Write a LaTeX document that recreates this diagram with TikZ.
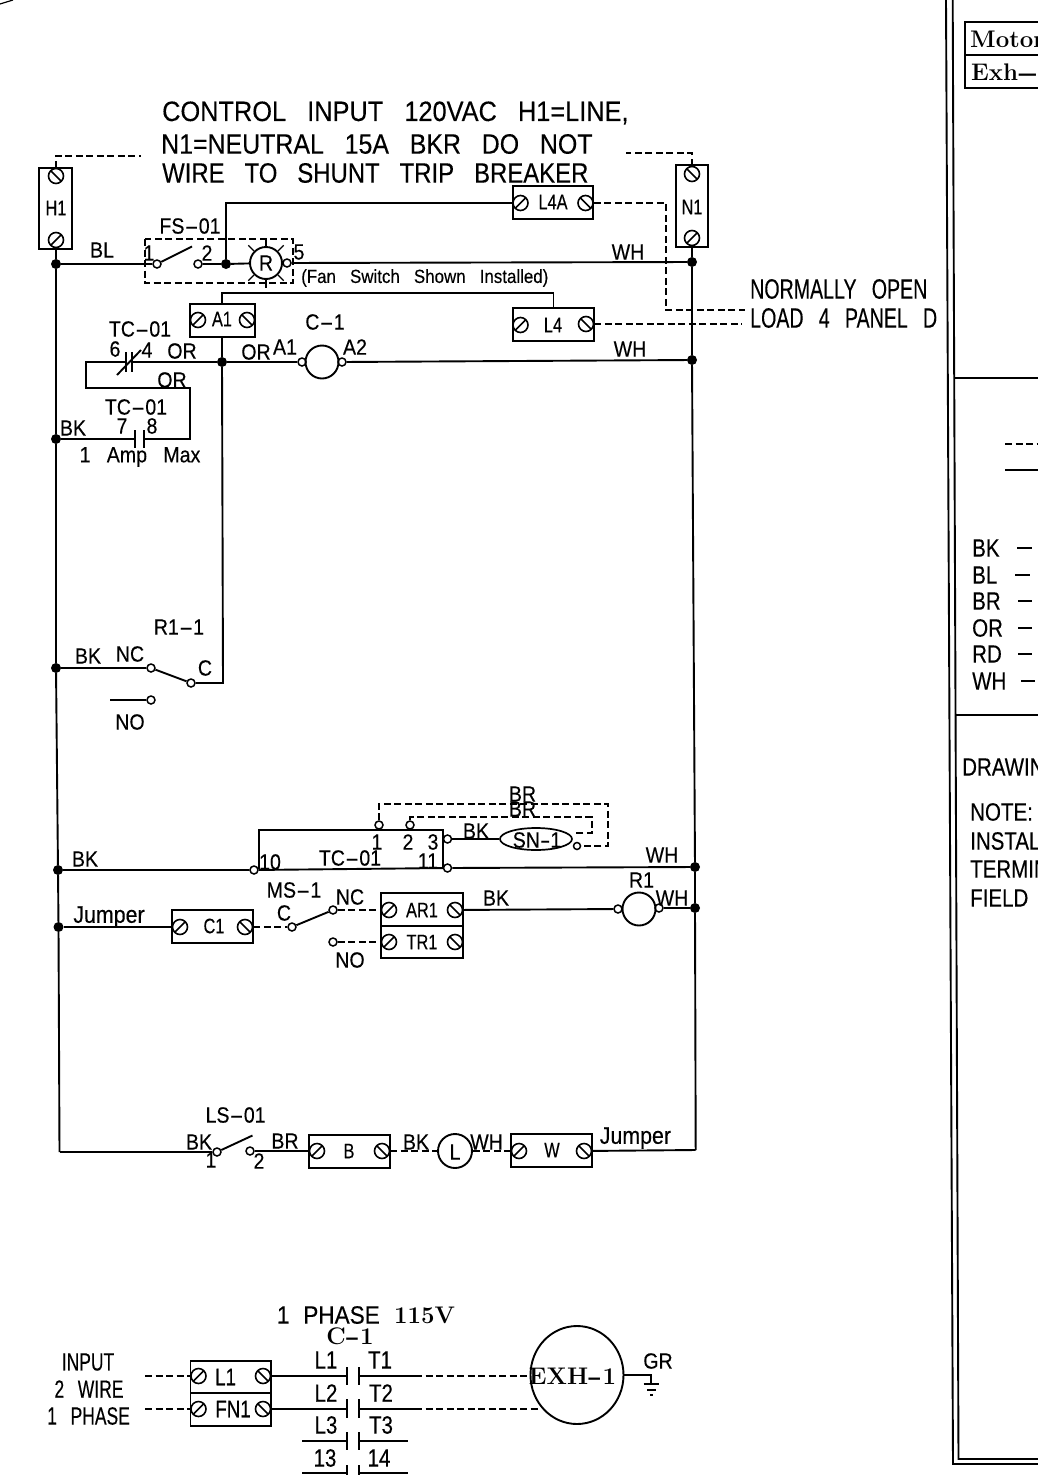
\documentclass[tikz,border=0pt]{standalone}
\usepackage{fontspec}
\setsansfont[FakeStretch=0.89,WordSpace=3,FakeBold=0.25]{Liberation Sans}
\newfontfamily\fB[FakeStretch=0.82,WordSpace=2.2,FakeBold=0.25]{Liberation Sans}
\newfontfamily\fN[FakeStretch=0.70,WordSpace=2.8,FakeBold=0.25]{Liberation Sans}
\newfontfamily\fC[FakeStretch=0.78,WordSpace=2,FakeBold=0.25]{Liberation Sans}
\usetikzlibrary{calc,shapes.geometric}
\newcommand{\hy}{\scalebox{2.2}[1]{-}}
\newcommand{\hyS}{\scalebox{1.6}[1]{-}}
\newcounter{lab}
\def\T#1(#2)#3;{\stepcounter{lab}\node[#1] (lab\arabic{lab}) at (#2) {#3};}
\tikzset{
 wire/.style={line width=1.9pt,black},
 dwire/.style={wire,dash pattern=on 7pt off 3.5pt},
 boxl/.style={draw,line width=1.9pt,inner sep=0pt},
 screwf/.style={circle,draw,line width=1.6pt,minimum size=15pt,inner sep=0pt,
   path picture={\draw[line width=1.6pt] (path picture bounding box.south west)--(path picture bounding box.north east);}},
 screwb/.style={circle,draw,line width=1.6pt,minimum size=15pt,inner sep=0pt,
   path picture={\draw[line width=1.6pt] (path picture bounding box.north west)--(path picture bounding box.south east);}},
 term/.style={circle,draw,line width=1.5pt,minimum size=8pt,inner sep=0pt},
 dot/.style={circle,fill=black,minimum size=10pt,inner sep=0pt},
 coil/.style={circle,draw,line width=1.9pt,inner sep=0pt},
 tA/.style={font=\sffamily\fontsize{28}{28}\selectfont,inner sep=0pt},
 tN/.style={font=\fN\fontsize{28}{28}\selectfont,inner sep=0pt},
 tI/.style={font=\fN\fontsize{25}{25}\selectfont,inner sep=0pt},
 tB/.style={font=\fB\fontsize{25}{25}\selectfont,inner sep=0pt},
 tS/.style={font=\sffamily\fontsize{22}{22}\selectfont,inner sep=0pt},
 tJ/.style={font=\sffamily\fontsize{24}{24}\selectfont,inner sep=0pt},
 tF/.style={font=\sffamily\fontsize{19}{19}\selectfont,inner sep=0pt},
 tX/.style={font=\fC\fontsize{21}{21}\selectfont,inner sep=0pt},
 tY/.style={font=\fC\fontsize{24}{24}\selectfont,inner sep=0pt},
 tL/.style={font=\rmfamily\bfseries\fontsize{24}{24}\selectfont,inner sep=0pt},
}
\begin{document}
\begin{tikzpicture}[x=1pt,y=-1pt]
\useasboundingbox (0,0) rectangle (1038,1475);
% --- corner and frame
\coordinate (cA) at (0,4); \coordinate (cB) at (13,0);
\draw[line width=1.2pt] (cA)--(cB);
\coordinate (fa) at (946,0); \coordinate (fb) at (953,1464);
\coordinate (fc) at (952.7,0); \coordinate (fd) at (958.5,1459);
\coordinate (fe) at (1038,1464); \coordinate (ff) at (1038,1459);
\draw[wire] (fa)--(fb)--(fe); \draw[wire] (fc)--(fd)--(ff);
\coordinate (ha) at (954,378); \coordinate (hb) at (1038,378);
\coordinate (hc) at (955,715); \coordinate (hd) at (1038,715);
\draw[wire] (ha)--(hb); \draw[wire] (hc)--(hd);
\coordinate (mta) at (965,22); \coordinate (mtb) at (1038,22);
\coordinate (mma) at (965,55); \coordinate (mmb) at (1038,55);
\coordinate (mba) at (965,88); \coordinate (mbb) at (1038,88);
\draw[wire] (mtb)--(mta)--(mba)--(mbb); \draw[wire] (mma)--(mmb);
\node[tL,anchor=west] (tMotor) at (970,39) {Motor};
\node[tL,anchor=west] (tExh) at (971,72) {Exh\scalebox{2.4}[1]{-}};
\coordinate (la) at (1005,444); \coordinate (lb) at (1038,444);
\coordinate (lc) at (1005,470); \coordinate (ld) at (1038,470);
\draw[dwire] (la)--(lb); \draw[wire] (lc)--(ld);
\foreach \t/\y/\a/\b in {BK/548/1017/1032,BL/575/1015/1030,BR/601/1018/1032,OR/628/1018/1032,RD/654/1018/1032,WH/681/1021/1035}{
  \node[tB,anchor=west] (leg\t) at (972,\y) {\t};
  \coordinate (la\t) at (\a,\y); \coordinate (lb\t) at (\b,\y);
  \draw[wire] (la\t)--(lb\t);
}
\node[tB,anchor=west] (tDraw) at (962,767) {DRAWIN};
\node[tB,anchor=west] (tNote) at (970,812) {NOTE:};
\node[tB,anchor=west] (tInst) at (970,841) {INSTAL};
\node[tB,anchor=west] (tTerm) at (970,869) {TERMIN};
\node[tB,anchor=west] (tField) at (970,898) {FIELD};
% --- top text
\node[tA,anchor=west] (t1) at (162,113) {\scalebox{1.017}[1]{CONTROL INPUT 120VAC H1=LINE,}};
\node[tA,anchor=west] (t2) at (161,144) {N1=NEUTRAL 15A BKR DO NOT};
\node[tA,anchor=west] (t3) at (162,173) {\scalebox{0.96}[1]{WIRE TO SHUNT TRIP BREAKER}};
\node[tN,anchor=west] (t4) at (750,289) {NORMALLY OPEN};
\node[tN,anchor=west] (t5) at (750,318) {LOAD 4 PANEL D};
% --- H1, N1
\draw[boxl] (39,168) rectangle (72,249);
\node[screwb] (h1t) at (56,176) {};
\node[screwf] (h1b) at (56,240) {};
\node[tX] (lH1) at (56,208) {H1};
\coordinate (h1e) at (141,156);
\draw[dwire] (h1t) |- (h1e);
\draw[boxl] (676,165) rectangle (708,247);
\node[screwb] (n1t) at (692,174) {};
\node[screwf] (n1b) at (692,238) {};
\node[tX] (lN1) at (692,207) {N1};
\coordinate (n1e) at (626,153);
\draw[dwire] (n1t) |- (n1e);
% bus
\node[dot] (dL1) at (56,264) {};
\node[dot] (dL2) at (56,439) {};
\node[dot] (dL3) at (56,668) {};
\node[dot] (dL4) at (58,870) {};
\node[dot] (dL5) at (58.5,927) {};
\coordinate (bL) at (59.5,1152);
\node[dot] (dR1) at (692,262) {};
\node[dot] (dR2) at (692,360) {};
\node[dot] (dR3) at (695,867) {};
\node[dot] (dR4) at (695,908) {};
\coordinate (bR) at (695.7,1150);
\draw[wire] (h1b)--(dL1)--(dL2)--(dL3)--(dL4)--(dL5)--(bL);
\draw[wire] (n1b)--(dR1)--(dR2)--(dR3)--(dR4)--(bR);
% FS-01
\draw[dwire,line width=1.4pt] (145,239) rectangle (293,283);
\node[term] (fs1) at (157,264) {};
\node[term] (fs2) at (198,264) {};
\coordinate (fsb) at (192,246.5);
\draw[wire] (fs1)--(fsb);
\node[dot] (dFS) at (226,264) {};
\node[coil,minimum size=32pt] (R) at (266,263) {};
\node[tS] (lR) at (266,263) {R};
\node[term] (fs5) at (287,263) {};
\foreach \a in {45,90,135,225,270,315}{
  \coordinate (ra\a) at ($(R)+(\a:-17)$); \coordinate (rb\a) at ($(R)+(\a:-25)$);
  \draw[line width=1.3pt] (ra\a)--(rb\a);
}
\draw[wire] (dL1)--(fs1); \draw[wire] (fs2)--(dFS)--(R);
\draw[wire] (fs5)--(dR1);
% L4A
\draw[boxl] (513,186) rectangle (593,219);
\node[screwf] (l4al) at (520.5,203) {};
\node[screwb] (l4ar) at (585.5,203) {};
\node[tX] (lL4A) at (553,202) {L4A};
\draw[wire] (dFS) |- (l4al);
\coordinate (nL4A) at (745,310);
\coordinate (kL4A) at (666,203);
\draw[dwire] (l4ar)--(kL4A)|-(nL4A);
% L4
\draw[boxl] (513,308) rectangle (594,341);
\node[screwf] (l4l) at (520.5,325) {};
\node[screwb] (l4r) at (586,324) {};
\node[tX] (lL4) at (553,325) {L4};
\coordinate (nL4) at (742,324);
\draw[dwire] (l4r)--(nL4);
% A1 box
\draw[boxl] (190,304) rectangle (255,337);
\node[screwf] (a1l) at (198,320) {};
\node[screwb] (a1r) at (247,320) {};
\node[tX] (lA1) at (222,319) {A1};
\coordinate (a1t) at (222,304); \coordinate (a1b) at (222,337);
\coordinate (l4t) at (553.5,308); \coordinate (jk) at (222,293);
\draw[wire] (a1t)--(jk)-|(l4t);
\node[dot] (dA) at (222,362) {};
\draw[wire] (a1b)--(dA);
% C-1 coil
\node[coil,minimum size=33pt] (C1c) at (322,362) {};
\node[term] (ca1) at (302,362) {};
\node[term] (ca2) at (342,362) {};
\draw[wire] (dA)--(ca1); \draw[wire] (ca2)--(dR2);
% TC-01 contacts
\coordinate (c1r) at (132,362); \coordinate (c1l) at (126,362);
\coordinate (c1rt) at (132,352); \coordinate (c1rb) at (132,372);
\coordinate (c1lt) at (126,352); \coordinate (c1lb) at (126,372);
\coordinate (c1sa) at (117,375); \coordinate (c1sb) at (141,350);
\draw[wire] (c1rt)--(c1rb); \draw[wire] (c1lt)--(c1lb); \draw[wire] (c1sa)--(c1sb);
\coordinate (pa) at (86,362); \coordinate (pb) at (86,388); \coordinate (pc) at (190,388); \coordinate (pd) at (190,439);
\coordinate (c2r) at (144,439); \coordinate (c2l) at (135,439);
\coordinate (c2rt) at (144,430); \coordinate (c2rb) at (144,448);
\coordinate (c2lt) at (135,430); \coordinate (c2lb) at (135,448);
\draw[wire] (c2rt)--(c2rb); \draw[wire] (c2lt)--(c2lb);
\draw[wire] (dA)--(c1r); \draw[wire] (c1l)--(pa)--(pb)--(pc)--(pd)--(c2r);
\draw[wire] (c2l)--(dL2);
% R1-1
\node[term] (rnc) at (151,668) {};
\node[term] (rc) at (191,683) {};
\node[term] (rno) at (151,700) {};
\coordinate (rcr) at (223,683);
\coordinate (rno0) at (110,700);
\draw[wire] (dL3)--(rnc); \draw[wire] (rc)--(rnc); \draw[wire] (dA)--(rcr)--(rc); \draw[wire] (rno0)--(rno);
% TC-01 unit
\coordinate (ua) at (259,869); \coordinate (ub) at (259,830); \coordinate (uc) at (443,830); \coordinate (ud) at (443,869); 
\draw[wire] (ua)--(ub)--(uc)--(ud);
\node[term] (u10) at (254,870) {};
\node[term] (u11) at (447.5,868) {};
\node[term] (u3) at (447.5,839) {};
\node[term] (u1) at (379,825) {};
\node[term] (u2) at (410,825) {};
\draw[wire] (dL4)--(u10)--(u11); \draw[wire] (u11)--(dR3);
\node[draw,ellipse,line width=1.7pt,minimum width=72pt,minimum height=22pt,inner sep=0pt] (SN) at (536,839) {};
\node[term,minimum size=7pt] (sn2) at (577,846) {};
\coordinate (sn1) at (575,833);
\draw[wire] (u3)--(SN);
\coordinate (da1) at (608,804); \coordinate (da2) at (608,846);
\coordinate (db1) at (592,817); \coordinate (db2) at (592,833);
\draw[dwire,line width=1.6pt] (u1)|-(da1)--(da2)--(sn2);
\draw[dwire,line width=1.6pt] (u2)|-(db1)--(db2)--(sn1);
% R1 row
\draw[boxl] (172,910) rectangle (253,943);
\node[screwf] (c1s) at (180,927) {};
\node[screwb] (c1rr) at (245,927) {};
\node[tX] (lC1) at (214,926) {C1};
\draw[wire] (dL5)--(c1s);
\node[term] (msc) at (292,927) {};
\node[term] (msnc) at (333,910) {};
\node[term] (msno) at (333,942) {};
\draw[dwire] (c1rr)--(msc); \draw[wire] (msc)--(msnc);
\draw[boxl] (381,893) rectangle (463,958);
\coordinate (arm1) at (381,926); \coordinate (arm2) at (463,926);
\draw[wire] (arm1)--(arm2);
\node[screwf] (arl) at (389,910) {};
\node[screwb] (arr) at (455,910) {};
\node[screwf] (trl) at (389,942) {};
\node[screwb] (trr) at (455,942) {};
\node[tX] (lAR) at (422,910) {AR1};
\node[tX] (lTR) at (422,942) {TR1};
\draw[dwire] (msnc)--(arl); \draw[dwire] (msno)--(trl);
\node[coil,minimum size=33pt] (R1c) at (639,909) {};
\node[term] (r1a) at (618,909) {};
\node[term] (r1b) at (659,908) {};
\draw[wire] (arr)--(r1a); \draw[wire] (r1b)--(dR4);
% LS row
\node[term] (ls1) at (217,1152) {};
\node[term] (ls2) at (250,1151) {};
\coordinate (lsb) at (252.5,1135.5);
\draw[wire] (bL)--(ls1); \draw[wire] (ls1)--(lsb);
\draw[boxl] (309,1135) rectangle (390,1168);
\node[screwf] (bl) at (317,1151) {};
\node[screwb] (br) at (382,1151) {};
\node[tX] (lB) at (349,1151) {B};
\draw[wire] (ls2)--(bl);
\node[coil,minimum size=34pt] (Lc) at (455,1151) {};
\node[tS] (lL) at (455,1152) {L};
\draw[boxl] (511,1134) rectangle (592,1167);
\node[screwf] (wl) at (519,1151) {};
\node[screwb] (wr) at (584,1151) {};
\node[tX] (lW) at (552,1150) {W};
\draw[dwire] (br)--(Lc); \draw[dwire] (Lc)--(wl);
\draw[wire] (wr)--(bR);
% lower diagram
\draw[boxl] (190.5,1361) rectangle (271,1426);
\coordinate (imA) at (190.5,1393); \coordinate (imB) at (271,1393);
\draw[wire] (imA)--(imB);
\node[screwf] (il1) at (198.5,1376) {};
\node[screwb] (il2) at (263,1376) {};
\node[screwf] (if1) at (198.5,1409) {};
\node[screwb] (if2) at (263,1409) {};
\coordinate (ia) at (145,1376); \coordinate (ib) at (145,1409);
\draw[dwire] (ia)--(il1); \draw[dwire] (ib)--(if1);
\node[ellipse,draw,line width=1.9pt,minimum width=93pt,minimum height=98pt,inner sep=0pt] (EXH) at (577,1375) {};
\foreach \n/\y/\ya/\yb in {a/1376/1367/1385,b/1409/1399/1418,c/1441/1432/1450,d/1473/1465/1475}{
  \coordinate (kl\n) at (347,\y); \coordinate (kr\n) at (359,\y);
  \coordinate (kla\n) at (347,\ya); \coordinate (klb\n) at (347,\yb);
  \coordinate (kra\n) at (359,\ya); \coordinate (krb\n) at (359,\yb);
  \draw[wire] (kla\n)--(klb\n); \draw[wire] (kra\n)--(krb\n);
}
\draw[wire] (il2)--(kla); \draw[wire] (if2)--(klb);
\coordinate (sa) at (415,1376); \coordinate (sb) at (415,1409);
\coordinate (ex1) at (530,1376); \coordinate (ex2) at (541,1409);
\draw[wire] (kra)--(sa); \draw[wire] (krb)--(sb);
\draw[dwire] (sa)--(ex1); \draw[dwire] (sb)--(ex2);
\coordinate (x3) at (302,1441); \coordinate (x4) at (408,1441);
\coordinate (x5) at (302,1473); \coordinate (x6) at (408,1473);
\draw[wire] (x3)--(klc); \draw[wire] (krc)--(x4);
\draw[wire] (x5)--(kld); \draw[wire] (krd)--(x6);
\coordinate (gk) at (651,1375); \coordinate (gb) at (651,1384);
\coordinate (g1) at (643.5,1384); \coordinate (g2) at (659,1384);
\coordinate (g3) at (647,1390); \coordinate (g4) at (656,1390);
\coordinate (g5) at (650,1395); \coordinate (g6) at (653,1395);
\draw[wire] (EXH.east)--(gk)--(gb); \draw[wire] (g1)--(g2); \draw[wire] (g3)--(g4); \draw[wire] (g5)--(g6);
% labels
\T{tS}(102,250){BL};
\T{tS}(149,253){1};
\T{tS}(207,253){2};
\T{tS}(299,252){5};
\T{tS}(190,226){FS\hy01};
\T{tS}(628,252){WH};
\T{tF,anchor=west}(301,278){(Fan Switch Shown Installed)};
\T{tS}(140,329){TC\hy01};
\T{tS}(115,349){6};
\T{tS}(147,350){4};
\T{tS}(182,351){OR};
\T{tS}(256,352){OR};
\T{tS}(285,347){A1};
\T{tS}(355,347){A2};
\T{tS}(325,322){C\hy1};
\T{tS}(630,349){WH};
\T{tS}(172,380){OR};
\T{tS}(136,407){TC\hy01};
\T{tS}(122,426){7};
\T{tS}(152,426){8};
\T{tS}(73,428){BK};
\T{tS}(140,457){1 Amp Max};
\T{tS}(179,627){R1\hy1};
\T{tS}(88,656){BK};
\T{tS}(130,654){NC};
\T{tS}(205,668){C};
\T{tS}(130,722){NO};
\T{tS}(522.5,794){BR};
\T{tS}(522.5,809){BR};
\T{tS}(377,842){1};
\T{tS}(408,842){2};
\T{tS}(433,842){3};
\T{tS}(350,858){TC\hy01};
\T{tS}(270,862){10};
\T{tS}(428,861){11};
\T{tS}(476,831){BK};
\T{tS}(537,840){SN\hyS1};
\T{tS}(85,859){BK};
\T{tS}(662,855){WH};
\T{tJ}(109,917){Jumper};
\T{tS}(294,890){MS\hy1};
\T{tS}(284,913){C};
\T{tS}(350,897){NC};
\T{tS}(350,960){NO};
\T{tS}(496,898){BK};
\T{tS}(641.5,880){R1};
\T{tS}(672,898){WH};
\T{tS}(235.6,1115){LS\hy01};
\T{tS}(199,1142){BK};
\T{tS}(211,1160){1};
\T{tS}(259,1161){2};
\T{tS}(285,1141){BR};
\T{tS}(416,1142){BK};
\T{tS}(486.6,1142){WH};
\T{tJ}(635.4,1138){Jumper};
\T{tB,anchor=east}(380,1315){\scalebox{1.1}[1]{1 PHASE}};
\T{tL,anchor=west}(394,1315){115V};
\T{tL}(350,1336){C\hyS1};
\T{tI}(88,1362){INPUT};
\T{tI}(89,1389){2 WIRE};
\T{tI}(88.6,1416){1 PHASE};
\T{tY}(225.6,1377){L1};
\T{tY}(233,1409){FN1};
\T{tB}(326,1360){L1};
\T{tB}(380,1360){T1};
\T{tB}(326,1393){L2};
\T{tB}(381,1393){T2};
\T{tB}(326,1425){L3};
\T{tB}(381,1425){T3};
\T{tB}(325,1458){13};
\T{tB}(379,1458){14};
\T{tL}(572.5,1376){EXH\hyS1};
\T{tS}(658,1361){GR};
\end{tikzpicture}
\end{document}
